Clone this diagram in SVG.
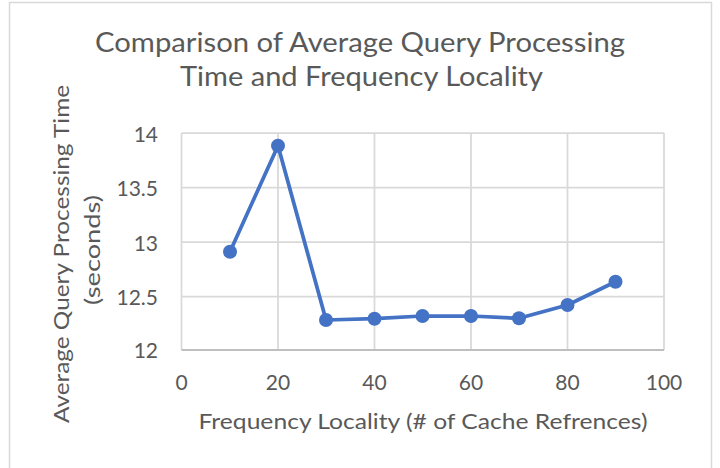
<svg xmlns="http://www.w3.org/2000/svg" width="720" height="468" viewBox="0 0 720 468">
  <style>
    .t { font-family: Lato, "Open Sans", "Liberation Sans", sans-serif; fill: #595959; }
    .title { font-size: 27px; text-anchor: middle; }
    .axt { font-size: 21px; text-anchor: middle; }
    .tick { font-size: 21px; }
    .grid { stroke: #d9d9d9; stroke-width: 1.75; fill: none; }
    .axis { stroke: #bfbfbf; stroke-width: 2; fill: none; }
    .series { stroke: #4472c4; stroke-width: 3.75; fill: none; stroke-linejoin: round; stroke-linecap: round; }
    .pt { fill: #4472c4; }
  </style>
  <rect x="0" y="0" width="720" height="468" fill="#ffffff"/>
  <rect id="chart-border" x="9.5" y="2.5" width="702" height="480" fill="#ffffff" stroke="#d9d9d9" stroke-width="1.5"/>

  <g id="title">
    <text class="t title" x="360" y="52" textLength="530" lengthAdjust="spacingAndGlyphs">Comparison of Average Query Processing</text>
    <text class="t title" x="361.5" y="86" textLength="363" lengthAdjust="spacingAndGlyphs">Time and Frequency Locality</text>
  </g>

  <g id="gridlines">
    <line class="grid" x1="181.5" y1="133" x2="664" y2="133"/>
    <line class="grid" x1="181.5" y1="187.5" x2="664" y2="187.5"/>
    <line class="grid" x1="181.5" y1="242" x2="664" y2="242"/>
    <line class="grid" x1="181.5" y1="296.5" x2="664" y2="296.5"/>
    <line class="grid" x1="181.5" y1="133" x2="181.5" y2="350"/>
    <line class="grid" x1="278" y1="133" x2="278" y2="350"/>
    <line class="grid" x1="374.5" y1="133" x2="374.5" y2="350"/>
    <line class="grid" x1="471" y1="133" x2="471" y2="350"/>
    <line class="grid" x1="567.5" y1="133" x2="567.5" y2="350"/>
    <line class="grid" x1="664" y1="133" x2="664" y2="350"/>
    <line class="axis" x1="181.5" y1="350" x2="664" y2="350"/>
  </g>

  <g id="y-ticks" class="t tick" text-anchor="end">
    <text x="158" y="141.5">14</text>
    <text x="158" y="196">13.5</text>
    <text x="158" y="250.5">13</text>
    <text x="158" y="304.5">12.5</text>
    <text x="158" y="358">12</text>
  </g>

  <g id="x-ticks" class="t tick" text-anchor="middle">
    <text x="181.5" y="390">0</text>
    <text x="278" y="390">20</text>
    <text x="374.5" y="390">40</text>
    <text x="471" y="390">60</text>
    <text x="567.5" y="390">80</text>
    <text x="664" y="390">100</text>
  </g>

  <g id="x-axis-title">
    <text class="t axt" x="423" y="428.5" textLength="449" lengthAdjust="spacingAndGlyphs">Frequency Locality (# of Cache Refrences)</text>
  </g>

  <g id="y-axis-title">
    <text class="t axt" transform="translate(68.5 254) rotate(-90)" x="0" y="0" textLength="338" lengthAdjust="spacingAndGlyphs">Average Query Processing Time</text>
    <text class="t axt" transform="translate(100 250) rotate(-90)" x="0" y="0" textLength="110" lengthAdjust="spacingAndGlyphs">(seconds)</text>
  </g>

  <g id="connectors">
    <polyline class="series" points="230,251.7 278,145.7 326,320 374.5,318.7 422.5,316 471,316 519,318.3 567.5,305 615.5,281.7"/>
  </g>

  <g id="markers">
    <g id="p10"><circle class="pt" cx="230" cy="251.7" r="7"/></g>
    <g id="p20"><circle class="pt" cx="278" cy="145.7" r="7"/></g>
    <g id="p30"><circle class="pt" cx="326" cy="320" r="7"/></g>
    <g id="p40"><circle class="pt" cx="374.5" cy="318.7" r="7"/></g>
    <g id="p50"><circle class="pt" cx="422.5" cy="316" r="7"/></g>
    <g id="p60"><circle class="pt" cx="471" cy="316" r="7"/></g>
    <g id="p70"><circle class="pt" cx="519" cy="318.3" r="7"/></g>
    <g id="p80"><circle class="pt" cx="567.5" cy="305" r="7"/></g>
    <g id="p90"><circle class="pt" cx="615.5" cy="281.7" r="7"/></g>
  </g>
</svg>
